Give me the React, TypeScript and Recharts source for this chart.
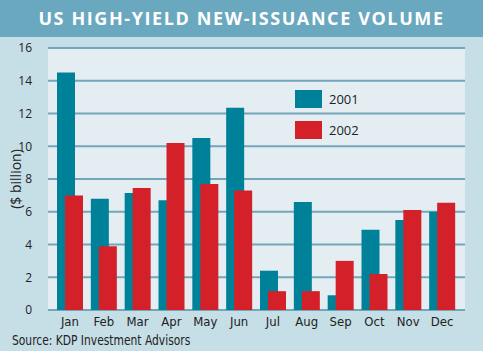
import { Bar, BarChart, CartesianGrid, XAxis, YAxis } from "recharts";

const MONTHS = ["Jan", "Feb", "Mar", "Apr", "May", "Jun", "Jul", "Aug", "Sep", "Oct", "Nov", "Dec"];
const VOLUME_2001 = [14.5, 6.8, 7.15, 6.7, 10.5, 12.35, 2.4, 6.6, 0.9, 4.9, 5.5, 6.0];
const VOLUME_2002 = [7.0, 3.9, 7.45, 10.2, 7.7, 7.3, 1.15, 1.15, 3.0, 2.2, 6.1, 6.55];
const Y_TICKS = [0, 2, 4, 6, 8, 10, 12, 14, 16];
const SERIES = ["2001", "2002"];

const TEAL = "#00819a";
const RED = "#d42029";
const GRID = "#72a6b8";
const SANS = "'Open Sans', sans-serif";
const NARROW = "'DejaVu Sans Condensed', 'DejaVu Sans', sans-serif";

const data = MONTHS.map((month, i) => ({ month, y2001: VOLUME_2001[i], y2002: VOLUME_2002[i] }));

function LegendBox() {
  const colors = [TEAL, RED];
  return (
    <div style={{ position: "absolute", left: 295, top: 83 }}>
      {SERIES.map((label, i) => (
        <div key={label} style={{ display: "flex", alignItems: "center", height: 31 }}>
          <span style={{ width: 27, height: 18, background: colors[i], display: "inline-block" }} />
          <span style={{ marginLeft: 7, fontSize: 13, color: "#222", fontFamily: SANS }}>{label}</span>
        </div>
      ))}
    </div>
  );
}

export default function App() {
  return (
    <div
      style={{
        position: "fixed",
        left: 0,
        top: 0,
        width: 483,
        height: 351,
        background: "#c6dee6",
        overflow: "hidden",
      }}
    >
      <div
        style={{
          position: "absolute",
          left: 0,
          top: 0,
          width: 483,
          height: 37,
          background: "#6aa8bf",
          color: "#fff",
          fontFamily: SANS,
          fontWeight: 700,
          fontSize: 18,
          letterSpacing: 1.6,
          lineHeight: "37px",
          textAlign: "center",
        }}
      >
        US HIGH-YIELD NEW-ISSUANCE VOLUME
      </div>
      <div style={{ position: "absolute", left: 0, top: 0 }}>
        <BarChart
          width={483}
          height={351}
          data={data}
          margin={{ top: 48, right: 18, bottom: 11, left: 0 }}
          barSize={18}
          barGap={-10}
        >
          <CartesianGrid vertical={false} stroke={GRID} strokeWidth={2} fill="#e4eef2" fillOpacity={1} />
          <XAxis
            dataKey="month"
            height={30}
            axisLine={false}
            tickLine={false}
            padding={{ left: 5, right: 6 }}
            tick={{ fill: "#222", fontSize: 13, fontFamily: NARROW }}
            tickMargin={1}
          />
          <YAxis
            width={48}
            domain={[0, 16]}
            ticks={Y_TICKS}
            axisLine={false}
            tickLine={false}
            tickMargin={10}
            tick={{ fill: "#222", fontSize: 12, fontFamily: SANS }}
            label={{
              value: "($ billion)",
              angle: -90,
              position: "insideLeft",
              offset: 16,
              style: { fill: "#222", fontSize: 14, fontFamily: SANS, textAnchor: "middle" },
            }}
          />
          <Bar dataKey="y2001" name={SERIES[0]} fill={TEAL} isAnimationActive={false} />
          <Bar dataKey="y2002" name={SERIES[1]} fill={RED} isAnimationActive={false} />
        </BarChart>
      </div>
      <LegendBox />
      <div
        style={{
          position: "absolute",
          left: 12,
          top: 331,
          fontSize: 14,
          lineHeight: "18px",
          color: "#222",
          fontFamily: NARROW,
          whiteSpace: "nowrap",
          transform: "scaleX(0.85)",
          transformOrigin: "left center",
        }}
      >
        Source: KDP Investment Advisors
      </div>
    </div>
  );
}
